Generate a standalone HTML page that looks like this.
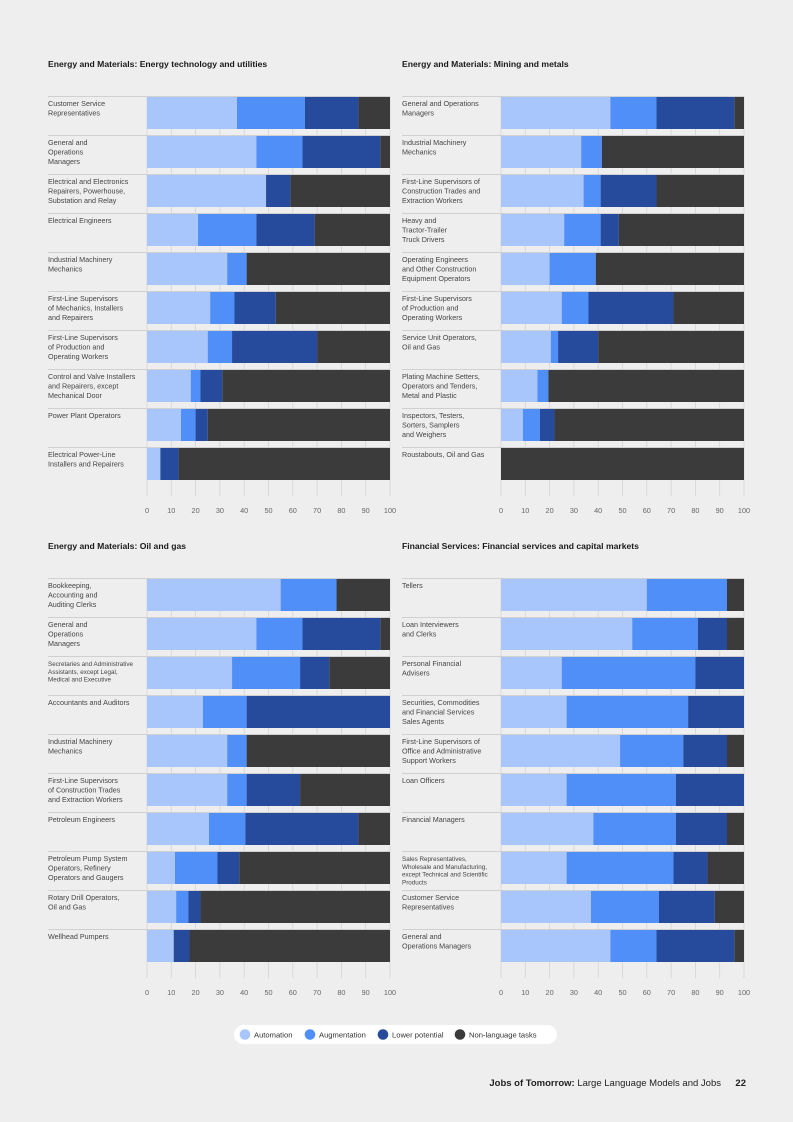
<!DOCTYPE html>
<html><head><meta charset="utf-8"><style>
html,body{margin:0;padding:0;background:#eeeeee;}
svg{display:block;font-family:"Liberation Sans",Arial,sans-serif;}
</style></head><body>
<svg id="chart" width="793" height="1122" viewBox="0 0 793 1122">
<rect width="793" height="1122" fill="#eeeeee"/>
</svg>
<script>
const seriesNames = ["Automation","Augmentation","Lower potential","Non-language tasks"];
const seriesColors = ["#a8c6fc","#4f8ff7","#264a9c","#3c3b3b"];
const ticks = [0,10,20,30,40,50,60,70,80,90,100];

const p1Title = "Energy and Materials: Energy technology and utilities";
const p1Cats = ["Customer Service|Representatives","General and|Operations|Managers","Electrical and Electronics|Repairers, Powerhouse,|Substation and Relay","Electrical Engineers","Industrial Machinery|Mechanics","First-Line Supervisors|of Mechanics, Installers|and Repairers","First-Line Supervisors|of Production and|Operating Workers","Control and Valve Installers|and Repairers, except|Mechanical Door","Power Plant Operators","Electrical Power-Line|Installers and Repairers"];
const p1Auto = [37,45,49,21,33,26,25,18,14,5.5];
const p1Aug = [28,19,0,24,8,10,10,4,6,0];
const p1Low = [22,32,10,24,0,17,35,9,5,7.5];
const p1Non = [13,4,41,31,59,47,30,69,75,87];

const p2Title = "Energy and Materials: Mining and metals";
const p2Cats = ["General and Operations|Managers","Industrial Machinery|Mechanics","First-Line Supervisors of|Construction Trades and|Extraction Workers","Heavy and|Tractor-Trailer|Truck Drivers","Operating Engineers|and Other Construction|Equipment Operators","First-Line Supervisors|of Production and|Operating Workers","Service Unit Operators,|Oil and Gas","Plating Machine Setters,|Operators and Tenders,|Metal and Plastic","Inspectors, Testers,|Sorters, Samplers|and Weighers","Roustabouts, Oil and Gas"];
const p2Auto = [45,33,34,26,20,25,20.5,15,9,0];
const p2Aug = [19,8.5,7,15,19,11,3,4.5,7,0];
const p2Low = [32,0,23,7.5,0,35,16.5,0,6,0];
const p2Non = [4,58.5,36,51.5,61,29,60,80.5,78,100];

const p3Title = "Energy and Materials: Oil and gas";
const p3Cats = ["Bookkeeping,|Accounting and|Auditing Clerks","General and|Operations|Managers","Secretaries and Administrative|Assistants, except Legal,|Medical and Executive","Accountants and Auditors","Industrial Machinery|Mechanics","First-Line Supervisors|of Construction Trades|and Extraction Workers","Petroleum Engineers","Petroleum Pump System|Operators, Refinery|Operators and Gaugers","Rotary Drill Operators,|Oil and Gas","Wellhead Pumpers"];
const p3Auto = [55,45,35,23,33,33,25.5,11.5,12,11];
const p3Aug = [23,19,28,18,8,8,15,17.5,5,0];
const p3Low = [0,32,12,59,0,22,46.5,9,5,6.5];
const p3Non = [22,4,25,0,59,37,13,62,78,82.5];

const p4Title = "Financial Services: Financial services and capital markets";
const p4Cats = ["Tellers","Loan Interviewers|and Clerks","Personal Financial|Advisers","Securities, Commodities|and Financial Services|Sales Agents","First-Line Supervisors of|Office and Administrative|Support Workers","Loan Officers","Financial Managers","Sales Representatives,|Wholesale and Manufacturing,|except Technical and Scientific|Products","Customer Service|Representatives","General and|Operations Managers"];
const p4Auto = [60,54,25,27,49,27,38,27,37,45];
const p4Aug = [33,27,55,50,26,45,34,44,28,19];
const p4Low = [0,12,20,23,18,28,21,14,23,32];
const p4Non = [7,7,0,0,7,0,7,15,12,4];

const NS = "http://www.w3.org/2000/svg";
const svg = document.getElementById("chart");
function mk(tag, attrs, parent){
  const e = document.createElementNS(NS, tag);
  for (const k in attrs) e.setAttribute(k, attrs[k]);
  (parent||svg).appendChild(e);
  return e;
}

function drawPanel(id, title, cats, auto, aug, low, non, lx, x0, x1, top){
  const g = mk("g", {});
  
  
  const xs = v => x0 + (x1 - x0) * v / 100;
  const pitch = 39, barH = 32;
  const t = mk("text", {x: lx, y: top - 29, "font-size": 8.6, "font-weight": "bold", fill: "#1a1a1a"}, g);
  t.textContent = title;
  
  
  const bottom = top + pitch * cats.length + 10;
  ticks.forEach(tv => {
    const ln = mk("line", {x1: xs(tv), x2: xs(tv), y1: top, y2: bottom, stroke: "#d4d4d4", "stroke-width": 0.8}, g);
    
    
    const tl = mk("text", {x: xs(tv), y: bottom + 17, "font-size": 7.3, fill: "#666", "text-anchor": "middle"}, g);
    tl.textContent = tv;
    
    
  });
  const series = [auto, aug, low, non];
  cats.forEach((c, i) => {
    const y0 = top + i * pitch;
    const sep = mk("line", {x1: lx, x2: x1, y1: y0 + 0.5, y2: y0 + 0.5, stroke: "#d0d0d0", "stroke-width": 1}, g);
    
    
    const lines = c.split("|");
    const small = lines.some(s => s.length > 29);
    const lab = mk("text", {x: lx, y: y0 + 10, "font-size": small ? 6.3 : 7.2, fill: "#444"}, g);
    
    
    const lh = small ? 7.8 : 9.4;
    lines.forEach((s, j) => {
      const ts = mk("tspan", {x: lx, dy: j === 0 ? 0 : lh}, lab);
      ts.textContent = s;
    });
    let acc = 0;
    series.forEach((arr, k) => {
      const v = arr[i];
      if (v > 0) {
        const r = mk("rect", {x: xs(acc), y: y0 + 1, width: xs(acc + v) - xs(acc), height: barH, fill: seriesColors[k]}, g);
        
        
      }
      acc += v;
    });
  });
}

drawPanel("energy-utilities", p1Title, p1Cats, p1Auto, p1Aug, p1Low, p1Non, 48, 147, 390, 96);
drawPanel("mining-metals", p2Title, p2Cats, p2Auto, p2Aug, p2Low, p2Non, 402, 501, 744, 96);
drawPanel("oil-gas", p3Title, p3Cats, p3Auto, p3Aug, p3Low, p3Non, 48, 147, 390, 578);
drawPanel("financial-services", p4Title, p4Cats, p4Auto, p4Aug, p4Low, p4Non, 402, 501, 744, 578);

// legend
const lg = mk("g", {});


const pill = mk("rect", {x: 234, y: 1025, width: 323, height: 19, rx: 9.5, fill: "#ffffff"}, lg);


const legX = [245, 310, 383, 460];
seriesNames.forEach((n, k) => {
  const c = mk("circle", {cx: legX[k], cy: 1034.5, r: 5.3, fill: seriesColors[k]}, lg);
  
  
  const t = mk("text", {x: legX[k] + 9, y: 1037.5, "font-size": 7.6, fill: "#333"}, lg);
  t.textContent = n;
  
  
});

// footer
const ft = mk("text", {x: 721, y: 1086, "font-size": 9.5, fill: "#222", "text-anchor": "end"});


const b = mk("tspan", {"font-weight": "bold"}, ft); b.textContent = "Jobs of Tomorrow:";
const n = mk("tspan", {}, ft); n.textContent = " Large Language Models and Jobs";
const pg = mk("text", {x: 746, y: 1086, "font-size": 9.5, "font-weight": "bold", fill: "#222", "text-anchor": "end"});
pg.textContent = "22";


</script>
</body></html>
